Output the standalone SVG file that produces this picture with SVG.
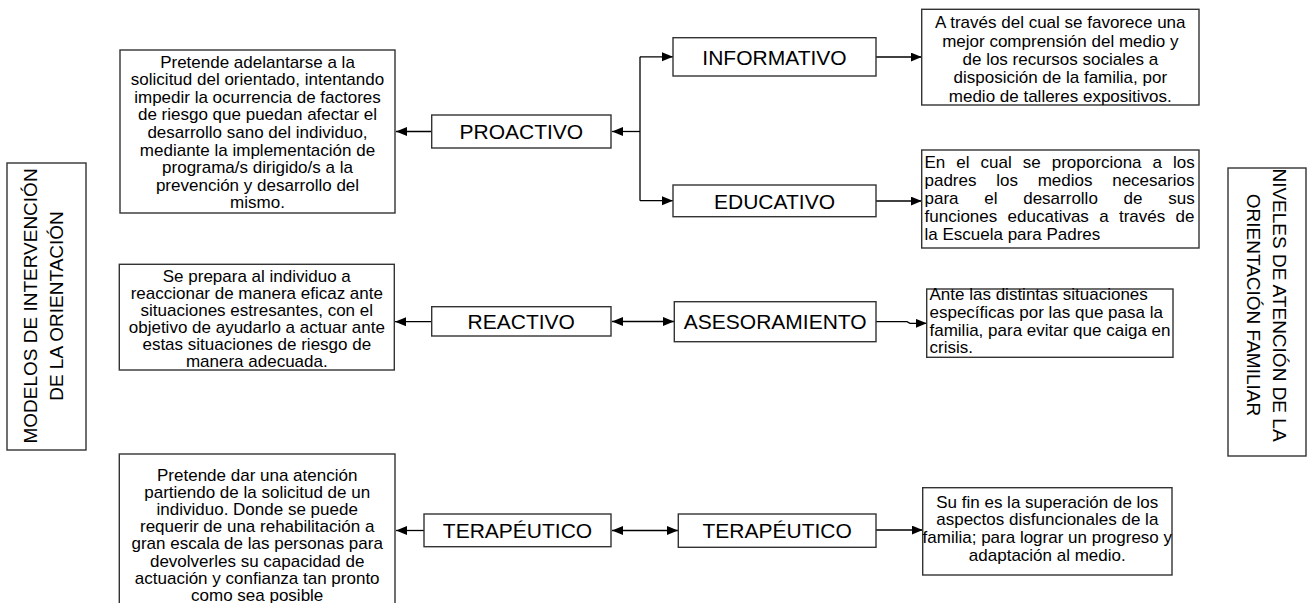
<svg xmlns="http://www.w3.org/2000/svg" width="1310" height="603" viewBox="0 0 1310 603">
<style>
.box{fill:#fff;stroke:#333;stroke-width:1.4}
.t{font-family:"Liberation Sans",Arial,sans-serif;font-size:17px;fill:#000}
.c{text-anchor:middle}
.lbl{font-family:"Liberation Sans",Arial,sans-serif;font-size:21px;fill:#000;text-anchor:middle}
.v{font-family:"Liberation Sans",Arial,sans-serif;font-size:19px;fill:#000;text-anchor:middle}
.ln{fill:none;stroke:#000;stroke-width:1.3}
</style>
<defs>
<marker id="ah" markerUnits="userSpaceOnUse" markerWidth="12" markerHeight="10" refX="11" refY="4.5" orient="auto-start-reverse">
<path d="M0,0 L11,4.5 L0,9 z" fill="#000"/>
</marker>
</defs>
<rect width="1310" height="603" fill="#fff"/>

<g id="connectors">
<line class="ln" x1="431.7" y1="131.5" x2="396" y2="131.5" marker-end="url(#ah)"/>
<line class="ln" x1="640" y1="131.5" x2="612" y2="131.5" marker-end="url(#ah)"/>
<line class="ln" x1="640" y1="56.8" x2="640" y2="200.7"/>
<line class="ln" x1="640" y1="56.8" x2="673" y2="56.8" marker-end="url(#ah)"/>
<line class="ln" x1="640" y1="200.7" x2="673" y2="200.7" marker-end="url(#ah)"/>
<line class="ln" x1="876" y1="57" x2="921.7" y2="57" marker-end="url(#ah)"/>
<line class="ln" x1="876" y1="201" x2="921.7" y2="201" marker-end="url(#ah)"/>
<line class="ln" x1="431.7" y1="321.7" x2="395" y2="321.7" marker-end="url(#ah)"/>
<line class="ln" x1="612" y1="321.5" x2="674" y2="321.5" marker-start="url(#ah)" marker-end="url(#ah)"/>
<path class="ln" d="M876,321.7 H907 L910,323.3 H926.7" marker-end="url(#ah)"/>
<line class="ln" x1="424" y1="530.5" x2="396" y2="530.5" marker-end="url(#ah)"/>
<line class="ln" x1="612" y1="530.5" x2="678" y2="530.5" marker-start="url(#ah)" marker-end="url(#ah)"/>
<line class="ln" x1="876" y1="530" x2="922.7" y2="530" marker-end="url(#ah)"/>
</g>

<g id="modelos">
<rect class="box" x="7" y="163" width="79" height="287"/>
<text class="v" transform="translate(37,306) rotate(-90)">MODELOS DE INTERVENCIÓN</text>
<text class="v" transform="translate(63,306) rotate(-90)">DE LA ORIENTACIÓN</text>
</g>

<g id="niveles">
<rect class="box" x="1228" y="168" width="78" height="288"/>
<text class="v" transform="translate(1273,305) rotate(90)">NIVELES DE ATENCIÓN DE LA</text>
<text class="v" transform="translate(1247,305) rotate(90)">ORIENTACIÓN FAMILIAR</text>
</g>

<g id="proactivo-desc">
<rect class="box" x="120" y="50" width="275" height="163"/>
<text class="t c" x="257.5" y="67.5">Pretende adelantarse a la</text>
<text class="t c" x="257.5" y="85.1">solicitud del orientado, intentando</text>
<text class="t c" x="257.5" y="102.7">impedir la ocurrencia de factores</text>
<text class="t c" x="257.5" y="120.3">de riesgo que puedan afectar el</text>
<text class="t c" x="257.5" y="137.9">desarrollo sano del individuo,</text>
<text class="t c" x="257.5" y="155.5">mediante la implementación de</text>
<text class="t c" x="257.5" y="173.1">programa/s dirigido/s a la</text>
<text class="t c" x="257.5" y="190.7">prevención y desarrollo del</text>
<text class="t c" x="257.5" y="208.3">mismo.</text>
</g>

<g id="proactivo">
<rect class="box" x="431.7" y="115" width="179.3" height="33"/>
<text class="lbl" x="521.3" y="139">PROACTIVO</text>
</g>

<g id="informativo">
<rect class="box" x="673" y="37.7" width="203" height="38.3"/>
<text class="lbl" x="774.5" y="64.5">INFORMATIVO</text>
</g>

<g id="informativo-desc">
<rect class="box" x="921.7" y="9.3" width="277.3" height="95.7"/>
<text class="t c" x="1060.3" y="28.3">A través del cual se favorece una</text>
<text class="t c" x="1060.3" y="46.7">mejor comprensión del medio y</text>
<text class="t c" x="1060.3" y="65">de los recursos sociales a</text>
<text class="t c" x="1060.3" y="83.4">disposición de la familia, por</text>
<text class="t c" x="1060.3" y="101.7">medio de talleres expositivos.</text>
</g>

<g id="educativo">
<rect class="box" x="673" y="185" width="203" height="31.7"/>
<text class="lbl" x="774.5" y="208.5">EDUCATIVO</text>
</g>

<g id="educativo-desc">
<rect class="box" x="921.7" y="150" width="277.3" height="98"/>
<text class="t" x="924.5" y="168.3" word-spacing="6.3">En el cual se proporciona a los</text>
<text class="t" x="924.5" y="186.2" word-spacing="15">padres los medios necesarios</text>
<text class="t" x="924.5" y="204.1" word-spacing="21">para el desarrollo de sus</text>
<text class="t" x="924.5" y="222" word-spacing="5.6">funciones educativas a través de</text>
<text class="t" x="924.5" y="240">la Escuela para Padres</text>
</g>

<g id="reactivo-desc">
<rect class="box" x="119.3" y="264.3" width="275" height="105.7"/>
<text class="t c" x="256.8" y="282">Se prepara al individuo a</text>
<text class="t c" x="256.8" y="298.9">reaccionar de manera eficaz ante</text>
<text class="t c" x="256.8" y="315.8">situaciones estresantes, con el</text>
<text class="t c" x="256.8" y="332.7">objetivo de ayudarlo a actuar ante</text>
<text class="t c" x="256.8" y="349.6">estas situaciones de riesgo de</text>
<text class="t c" x="256.8" y="366.5">manera adecuada.</text>
</g>

<g id="reactivo">
<rect class="box" x="431.7" y="306.7" width="179.3" height="29.3"/>
<text class="lbl" x="521.3" y="329">REACTIVO</text>
</g>

<g id="asesoramiento">
<rect class="box" x="674.3" y="301.7" width="201.7" height="40"/>
<text class="lbl" x="775.2" y="329.2">ASESORAMIENTO</text>
</g>

<g id="asesoramiento-desc">
<rect class="box" x="926.7" y="289" width="246.3" height="68.3"/>
<text class="t" x="929.5" y="300">Ante las distintas situaciones</text>
<text class="t" x="929.5" y="317.8">específicas por las que pasa la</text>
<text class="t" x="929.5" y="335.6">familia, para evitar que caiga en</text>
<text class="t" x="929.5" y="353.3">crisis.</text>
</g>

<g id="terapeutico-desc">
<rect class="box" x="119.3" y="454" width="275.7" height="170"/>
<text class="t c" x="257.2" y="481">Pretende dar una atención</text>
<text class="t c" x="257.2" y="498.1">partiendo de la solicitud de un</text>
<text class="t c" x="257.2" y="515.2">individuo. Donde se puede</text>
<text class="t c" x="257.2" y="532.3">requerir de una rehabilitación a</text>
<text class="t c" x="257.2" y="549.4">gran escala de las personas para</text>
<text class="t c" x="257.2" y="566.5">devolverles su capacidad de</text>
<text class="t c" x="257.2" y="583.6">actuación y confianza tan pronto</text>
<text class="t c" x="257.2" y="600.7">como sea posible</text>
</g>

<g id="terapeutico-1">
<rect class="box" x="424" y="514" width="187" height="32.7"/>
<text class="lbl" x="517.5" y="538">TERAPÉUTICO</text>
</g>

<g id="terapeutico-2">
<rect class="box" x="678.3" y="514" width="197.7" height="33.3"/>
<text class="lbl" x="777.2" y="538.3">TERAPÉUTICO</text>
</g>

<g id="terapeutico-2-desc">
<rect class="box" x="922.7" y="487.7" width="249.3" height="87.3"/>
<text class="t c" x="1047.3" y="507.5">Su fin es la superación de los</text>
<text class="t c" x="1047.3" y="525.3">aspectos disfuncionales de la</text>
<text class="t c" x="1047.3" y="543.1">familia; para lograr un progreso y</text>
<text class="t c" x="1047.3" y="560.9">adaptación al medio.</text>
</g>
</svg>
